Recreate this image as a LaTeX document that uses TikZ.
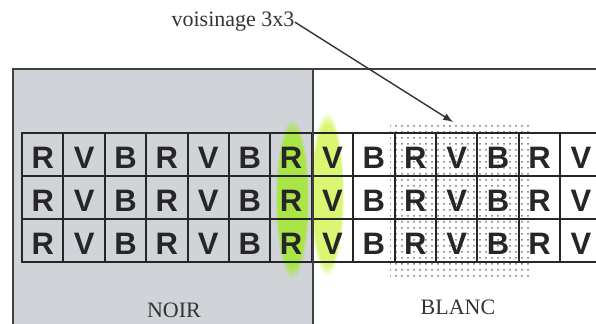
\documentclass[tikz,border=0pt]{standalone}
\usepackage{fontspec}
\setmainfont{Liberation Serif}
\newfontfamily\cellfont{Liberation Sans}
\usetikzlibrary{patterns,fadings}
\definecolor{noirgray}{RGB}{208,211,215}
\definecolor{vertR}{RGB}{165,232,55}
\definecolor{vertV}{RGB}{212,244,90}

\begin{document}
\begin{tikzpicture}[x=0.5pt,y=-0.5pt,
    cell/.style={draw=black!85,line width=1pt,inner sep=0pt,minimum width=20.7pt,minimum height=21.5pt,
      text height=14.5pt,text depth=0pt,font=\cellfont\bfseries\fontsize{15.5}{15.5}\selectfont,text=black!85},
    zonetext/.style={font=\fontsize{11}{11}\selectfont,inner sep=0pt,anchor=base,text=black!80},
    frame/.style={draw=black!75,line width=0.9pt},
    glow/.style={path fading=circle with fuzzy edge 15 percent}]
    \useasboundingbox (0,0) rectangle (596,324);
    \clip (0,0) rectangle (596,324);
    % zone NOIR
    \fill[noirgray] (13,69) rectangle (313,324);
    % colonnes en vert
    \fill[vertR,opacity=0.9,glow] (292,199) ellipse (17 and 80);
    \fill[vertV,opacity=0.85,glow] (327,194) ellipse (17 and 82);
    % voisinage 3x3
    \fill[pattern=dots,pattern color=black!55] (390,122) rectangle (532,277);
    % cellules
    \foreach \l [count=\i from 0] in {R,V,B,R,V,B,R,V,B,R,V,B,R,V}
      \foreach \j in {0,1,2}
        \node[cell] (c\i-\j) at (42.7+41.4*\i,154.5+43*\j) {\l};
    % cadre
    \draw[frame] (596,69) -- (13,69) -- (13,324);
    \draw[frame] (313,69) -- (313,324);
    % textes
    \node[zonetext] (voisin) at (233,27) {voisinage 3x3};
    \coordinate (cible) at (453,122);
    \draw[-latex,black!80,line width=0.7pt] (voisin.east) -- (cible);
    \node[zonetext] (noir) at (174,318) {NOIR};
    \node[zonetext] (blanc) at (458,315) {BLANC};
\end{tikzpicture}
\end{document}
